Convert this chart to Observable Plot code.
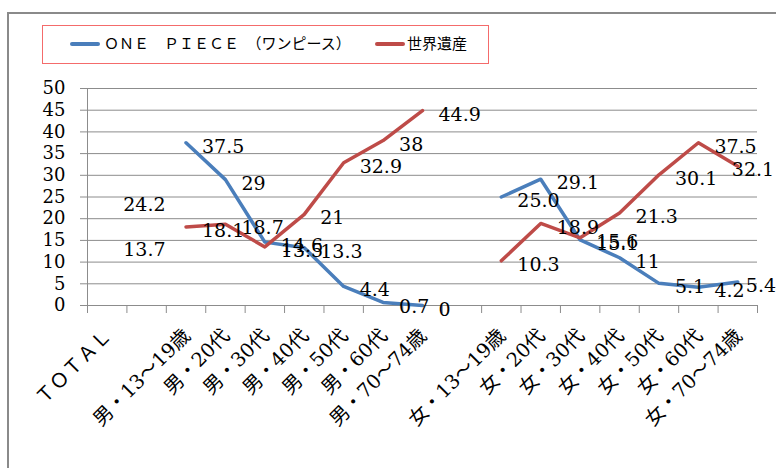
<!DOCTYPE html>
<html>
<head>
<meta charset="utf-8">
<script src="https://cdn.jsdelivr.net/npm/d3@7"></script>
<script src="https://cdn.jsdelivr.net/npm/@observablehq/plot@0.6"></script>
<style>
  body { margin: 0; background: #fff; }
  #wrap { position: relative; width: 776px; height: 468px; overflow: hidden; background: #fff; }
  #chart { position: absolute; left: 0; top: 0; }
  #frame { position: absolute; left: 7px; top: 12px; width: 900px; height: 600px;
           border-top: 2px solid #8a8a8a; border-left: 2px solid #8a8a8a; pointer-events: none; }
  #legend { position: absolute; left: 42px; top: 25px; width: 445px; height: 37px;
            border: 1.5px solid #f46b6b; background: #fff;
            font-family: "Noto Sans CJK JP", sans-serif; font-size: 15px; color: #000; }
  .sw { position: absolute; top: 16px; width: 30px; height: 4px; border-radius: 2px; }
  .lab { position: absolute; top: 7px; line-height: 20px; white-space: nowrap; }
</style>
</head>
<body>
<div id="wrap">
  <div id="chart"></div>
  <div id="frame"></div>
  <div id="legend"></div>
</div>
<script>
// ---- data ----
const categories = ["ＴＯＴＡＬ", "", "男・13～19歳", "男・20代", "男・30代", "男・40代", "男・50代", "男・60代", "男・70～74歳",
  "", "女・13～19歳", "女・20代", "女・30代", "女・40代", "女・50代", "女・60代", "女・70～74歳"];
const seriesNames = ["ＯＮＥ　ＰＩＥＣＥ　（ワンピース）", "世界遺産"];
const onePiece = [13.7, null, 37.5, 29, 14.6, 13.3, 4.4, 0.7, 0, null, 25.0, 29.1, 15.1, 11, 5.1, 4.2, 5.4];
const onePieceLabels = ["13.7", "", "37.5", "29", "14.6", "13.3", "4.4", "0.7", "0", "", "25.0", "29.1", "15.1", "11", "5.1", "4.2", "5.4"];
const heritage = [24.2, null, 18.1, 18.7, 13.5, 21, 32.9, 38, 44.9, null, 10.3, 18.9, 15.6, 21.3, 30.1, 37.5, 32.1];
const heritageLabels = ["24.2", "", "18.1", "18.7", "13.5", "21", "32.9", "38", "44.9", "", "10.3", "18.9", "15.6", "21.3", "30.1", "37.5", "32.1"];
const yTicks = [0, 5, 10, 15, 20, 25, 30, 35, 40, 45, 50];

// ---- styling ----
const BLUE = "#4a7ebb", RED = "#be4b48", GRID = "#8c8c8c";
const SERIF = "'DejaVu Serif', 'Noto Sans CJK JP', serif";
const NUM = "'DejaVu Serif', serif";
const n = categories.length;

const rows = categories.map((cat, i) => ({
  i, x: i + 0.5, cat,
  op: onePiece[i] ?? NaN, opl: onePieceLabels[i],
  wh: heritage[i] ?? NaN, whl: heritageLabels[i]
}));
// keep gaps (NaN) but drop isolated points, which a line cannot draw
const lineRows = key => rows.filter(d => isNaN(d[key]) ||
  (rows[d.i - 1] && !isNaN(rows[d.i - 1][key])) || (rows[d.i + 1] && !isNaN(rows[d.i + 1][key])));
const last = n - 1;

const plot = Plot.plot({
  width: 776, height: 468,
  marginLeft: 87, marginRight: 19, marginTop: 88, marginBottom: 163,
  x: { domain: [0, n], axis: null },
  y: { domain: [0, 50], axis: null },
  style: { background: "#fff", color: "#000", fontFamily: SERIF },
  marks: [
    Plot.gridY(yTicks, { stroke: GRID, strokeOpacity: 1, strokeWidth: 1 }),
    Plot.axisY({ ticks: yTicks, tickSize: 7, tickPadding: 15, stroke: GRID, fill: "#000",
                 fontSize: 18, fontFamily: NUM, label: null }),
    Plot.ruleX([0], { stroke: GRID }),
    Plot.ruleY([0], { stroke: GRID }),
    Plot.axisX({ ticks: d3.range(n + 1), tickSize: 8, tickFormat: () => "", stroke: GRID, label: null }),
    Plot.text(rows, { x: "x", text: "cat", frameAnchor: "bottom", rotate: -45, textAnchor: "end",
                      lineAnchor: "middle", dx: 1, dy: 27, fontSize: 19.5, fontFamily: SERIF, fill: "#000" }),
    Plot.line(lineRows("op"), { x: "x", y: "op", stroke: BLUE, strokeWidth: 3.5 }),
    Plot.line(lineRows("wh"), { x: "x", y: "wh", stroke: RED, strokeWidth: 3.5 }),
    Plot.text(rows.filter(d => d.i !== last), { x: "x", y: "op", text: "opl", textAnchor: "start",
                      dx: 16, dy: 4, fontSize: 19, fontFamily: NUM, fill: "#000" }),
    Plot.text(rows.filter(d => d.i !== last), { x: "x", y: "wh", text: "whl", textAnchor: "start",
                      dx: 16, dy: 4, fontSize: 19, fontFamily: NUM, fill: "#000" }),
    Plot.text(rows.filter(d => d.i === last), { x: "x", y: "op", text: "opl", textAnchor: "start",
                      dx: 8, dy: 4, fontSize: 19, fontFamily: NUM, fill: "#000" }),
    Plot.text(rows.filter(d => d.i === last), { x: "x", y: "wh", text: "whl", textAnchor: "start",
                      dx: -6, dy: 4, fontSize: 19, fontFamily: NUM, fill: "#000" })
  ]
});
document.getElementById("chart").appendChild(plot);

// ---- legend ----
const legend = document.getElementById("legend");
const legendItems = [
  { name: seriesNames[0], color: BLUE, sw: 27, lab: 61 },
  { name: seriesNames[1], color: RED, sw: 332, lab: 364 }
];
legendItems.forEach(it => {
  const s = document.createElement("div");
  s.className = "sw"; s.style.left = it.sw + "px"; s.style.background = it.color;
  legend.appendChild(s);
  const t = document.createElement("div");
  t.className = "lab"; t.style.left = it.lab + "px"; t.textContent = it.name;
  legend.appendChild(t);
});
</script>
</body>
</html>
